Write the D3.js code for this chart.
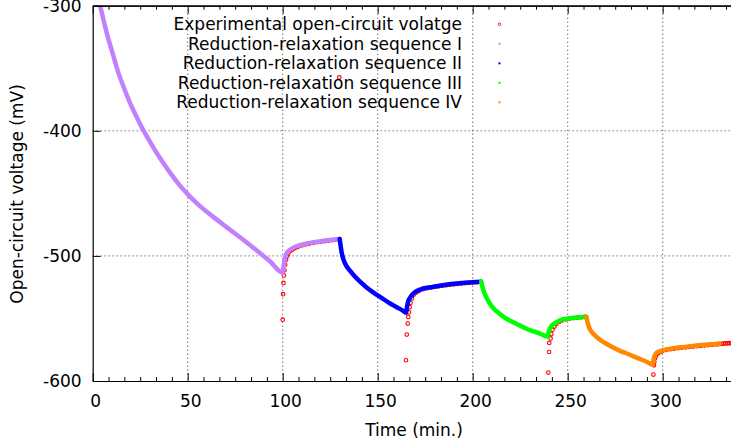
<!DOCTYPE html>
<html>
<head>
<meta charset="utf-8">
<script src="https://cdn.jsdelivr.net/npm/d3@7"></script>
<style>
  body { margin: 0; background: #fff; }
  svg { display: block; font-family: "DejaVu Sans", sans-serif; }
</style>
</head>
<body>
<div id="chart"></div>
<script>
// model curves, [time (min), voltage (mV)]
const seq1 = [[0,-273],[2,-287],[3.84,-299.4],[7,-319.5],[10.42,-337.8],[13.5,-353.5],[17,-367.8],
  [20.3,-380],[23.58,-390.3],[27,-400.5],[30.16,-408.8],[35.42,-421.8],[40.68,-433.4],[45.95,-443.8],
  [51.2,-452.6],[56.47,-460.2],[62.8,-468],[69.6,-476],[77.5,-485.1],[85.4,-494.5],[93.3,-504.3],
  [100,-513.3],
  [100.5,-508],[101,-503],[102,-498],[103,-496],[105,-494],[107,-492.5],[110,-491],[115,-489.5],
  [120,-488.3],[125,-487.3],[130,-486.5]];
const seq2 = [[130,-486.5],[130.5,-492],[131,-497],[132,-503],[133.5,-508],[135.5,-512],[138,-516.5],
  [141,-521],[144,-525],[148,-529.5],[152,-533.5],[156,-537.5],[160,-541],[163,-543.5],[165,-545.5],
  [165.5,-540],[166,-536.5],[167,-533.5],[168.5,-530.5],[170,-528.5],[173,-526.5],[176,-525.5],
  [180,-524.5],[185,-523.3],[190,-522.3],[195,-521.6],[200,-521],[204.5,-520.7]];
const seq3 = [[204.5,-520.7],[205,-524],[206,-529],[207.5,-534],[209,-538],[211,-542],[214,-546],
  [217,-549.5],[220,-552],[224,-555],[228,-558],[232,-560.3],[236,-562.5],[239.5,-564.5],
  [240,-561],[240.5,-558.5],[241.5,-556],[243,-554],[246,-551.5],[250,-550],[255,-549.2],[259.8,-548.6]];
const seq4 = [[259.8,-548.6],[260.3,-552],[261,-556],[262,-559.5],[264,-563],[266.5,-566.5],[269,-569],
  [273,-572.5],[277,-575.5],[281,-578],[285,-580.5],[289,-583],[292,-585],[294.8,-587],
  [295.2,-583],[295.7,-580],[296.5,-578],[298,-576.5],[300,-575.5],[304,-574.2],[310,-573],
  [316,-572],[322,-571],[328,-570.4],[330,-570.2]];

// experimental open-circuit points
const exp1 = [[100,-551],[100.2,-530.6],[100.4,-521.6],[100.6,-515.6],[100.9,-511.5],[101.3,-507],
  [101.8,-503],[102.4,-500],[103,-498],[104,-496],[105,-495],[106,-494],[107,-493.3],[108,-492.6],
  [110,-491.6],[112,-490.8],[114,-490.2],[116,-489.6],[118,-489.1],[120,-488.7],[122,-488.2],
  [124,-487.8],[126,-487.4],[128,-487.1],[129.8,-357.3]];
const exp2 = [[164.9,-583.4],[165.3,-562.9],[165.8,-554.1],[166.1,-548.8],[166.4,-545],[166.8,-541],
  [167.3,-537.5],[168,-534],[169,-531],[170,-529.5],[171,-528.5],[172,-527.7],[174,-526.6],
  [176,-525.8],[178,-525.2],[180,-524.7],[182,-524.3],[184,-523.9],[186,-523.5],[188,-523.1],
  [190,-522.8],[192,-522.4],[194,-522.1],[196,-521.8],[198,-521.5],[200,-521.3],[202,-521.1],[204,-520.9]];
const exp3 = [[239.8,-593.3],[240.2,-576.8],[240.3,-569.6],[241,-566],[241.4,-562.5],[242,-559],
  [243,-556.5],[244,-554.5],[245.5,-552.8],[247,-551.6],[249,-550.7],[251,-550.1],[253,-549.7],
  [255,-549.4],[257,-549.1],[259,-548.8]];
const exp4 = [[295.1,-594.9],[295.4,-587.5],[295.6,-584.8],[295.9,-582],[296.4,-580],[297.2,-578.3],
  [298,-577.3],[299,-576.5],[300,-575.9],[302,-575.1],[304,-574.6],[306,-574.2],[308,-573.8],
  [310,-573.4],[312,-573.1],[314,-572.8],[316,-572.5],[318,-572.2],[320,-571.9],[322,-571.6],
  [324,-571.3],[326,-571],[328,-570.7],[329,-570.6],[330,-570.4],[331,-570.3],[332,-570.1],
  [333,-570],[334,-569.9],[335,-569.8],[336,-569.7],[337,-569.6],[338,-569.5]];

const xTicks = [0, 50, 100, 150, 200, 250, 300];
const yTicks = [-600, -500, -400, -300];
const legendLabels = ["Experimental open-circuit volatge", "Reduction-relaxation sequence I",
  "Reduction-relaxation sequence II", "Reduction-relaxation sequence III", "Reduction-relaxation sequence IV"];
const seqColors = ["#c080ff", "#0000ff", "#00ff00", "#ff8800"];

const width = 731, height = 445;
const L = 92.7, R = 734.9, T = 5.7, B = 381;
const fs = 17;

let svg = d3.select("#chart").append("svg")
  .attr("width", width).attr("height", height);

let x = d3.scaleLinear().domain([0, 338]).range([L, R]);
let y = d3.scaleLinear().domain([-600, -300]).range([B, T]);

//网格
let grid = svg.append("g").attr("stroke", "#333").attr("stroke-width", 1).attr("stroke-dasharray", "1,3");
grid.selectAll(".gx").data(xTicks.filter(d => d > 0)).enter().append("line")
  .attr("x1", d => x(d)).attr("x2", d => x(d)).attr("y1", T).attr("y2", B);
grid.selectAll(".gy").data(yTicks.filter(d => d > -600 && d < -300)).enter().append("line")
  .attr("x1", L).attr("x2", R).attr("y1", d => y(d)).attr("y2", d => y(d));

svg.append("clipPath").attr("id", "clip").append("rect")
  .attr("x", L).attr("y", T).attr("width", R - L).attr("height", B - T);

let plot = svg.append("g").attr("clip-path", "url(#clip)");

// experimental points under the model curves
let expAll = [].concat(exp1, exp2, exp3, exp4);
plot.selectAll("circle.exp").data(expAll).enter().append("circle")
  .attr("cx", d => x(d[0])).attr("cy", d => y(d[1])).attr("r", 1.8)
  .attr("fill", "none").attr("stroke", "#ff0000").attr("stroke-width", 1.1);

let line = d3.line().x(d => x(d[0])).y(d => y(d[1])).curve(d3.curveMonotoneX);
[seq1, seq2, seq3, seq4].forEach((s, i) => {
  plot.append("path").datum(s).attr("d", line)
    .attr("fill", "none").attr("stroke", seqColors[i]).attr("stroke-width", 4.5)
    .attr("stroke-linejoin", "round").attr("stroke-linecap", "round");
});

// axes
let minor = d3.range(0, 338, 50 / 6).filter(v => Math.abs(v / 50 - Math.round(v / 50)) > 1e-6);
function styleAxis(g) {
  g.selectAll("path,line").attr("stroke", "#000");
  g.selectAll("text").attr("fill", "#000").style("font-size", fs + "px").style("font-family", "DejaVu Sans");
}
svg.append("g").attr("transform", `translate(0,${B})`)
  .call(d3.axisBottom(x).tickValues(xTicks).tickFormat(d => String(d)).tickSizeInner(-8).tickSizeOuter(0).tickPadding(13.9))
  .call(styleAxis).call(g => g.selectAll("text").attr("dx", 2.5));
svg.append("g").attr("transform", `translate(0,${B})`)
  .call(d3.axisBottom(x).tickValues(minor).tickFormat("").tickSizeInner(-4).tickSizeOuter(0))
  .call(styleAxis);
svg.append("g").attr("transform", `translate(0,${T})`)
  .call(d3.axisTop(x).tickValues(xTicks).tickFormat("").tickSizeInner(-8).tickSizeOuter(0))
  .call(styleAxis);
svg.append("g").attr("transform", `translate(0,${T})`)
  .call(d3.axisTop(x).tickValues(minor).tickFormat("").tickSizeInner(-4).tickSizeOuter(0))
  .call(styleAxis);
svg.append("g").attr("transform", `translate(${L},0)`)
  .call(d3.axisLeft(y).tickValues(yTicks).tickFormat(d => String(d)).tickSizeInner(-8).tickSizeOuter(0).tickPadding(11))
  .call(styleAxis);
svg.selectAll(".domain").attr("stroke-width", 1.2);

// axis titles
svg.append("text").attr("x", 414).attr("y", 436).attr("text-anchor", "middle")
  .style("font-size", fs + "px").text("Time (min.)");
svg.append("text").attr("transform", "translate(23,194) rotate(-90)").attr("text-anchor", "middle")
  .style("font-size", fs + "px").text("Open-circuit voltage (mV)");

// legend
let leg = svg.append("g");
legendLabels.forEach((t, i) => {
  let cy = 24.3 + i * 19.5;
  leg.append("text").attr("x", 462).attr("y", cy).attr("dy", "0.36em").attr("text-anchor", "end")
    .style("font-size", fs + "px").text(t);
  if (i === 0) {
    leg.append("circle").attr("cx", 499.5).attr("cy", cy).attr("r", 1.3)
      .attr("fill", "none").attr("stroke", "#ff0000").attr("stroke-width", 0.9);
  } else {
    leg.append("rect").attr("x", 498.5).attr("y", cy - 1).attr("width", 2).attr("height", 2)
      .attr("fill", seqColors[i - 1]);
  }
});
</script>
</body>
</html>
